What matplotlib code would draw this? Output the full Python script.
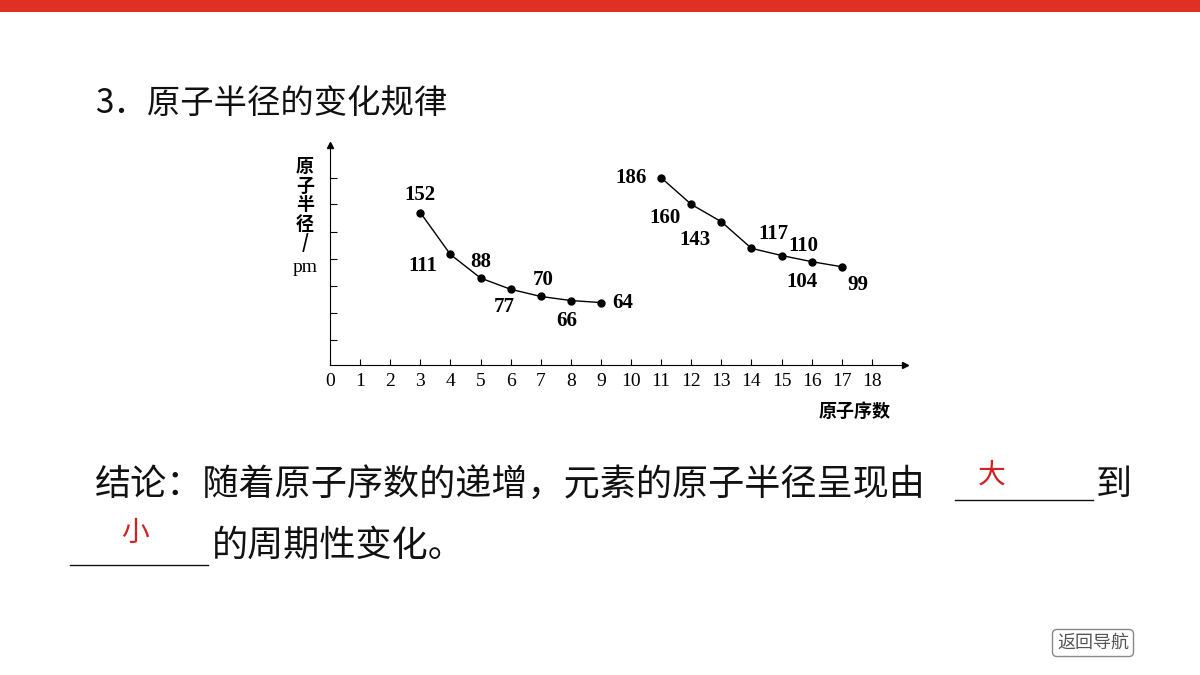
import matplotlib.pyplot as plt
from matplotlib.patches import Rectangle
from matplotlib.lines import Line2D

plt.rcParams['font.family'] = ['Noto Sans CJK SC', 'DejaVu Sans']

# period 2 (Li..F) and period 3 (Na..Cl)
z2 = [3, 4, 5, 6, 7, 8, 9]
r2 = [152, 111, 88, 77, 70, 66, 64]
z3 = [11, 12, 13, 14, 15, 16, 17]
r3 = [186, 160, 143, 117, 110, 104, 99]
xticks = list(range(0, 19))
yticks = [27.5, 54, 80.5, 107, 133, 160, 186]

# label offsets in px (dx, dy)
off2 = [(0, 18), (-28, -12), (0, 16), (-6, -18), (2, 16), (-4, -20), (22, 0)]
off3 = [(-30, 0), (-26, -14), (-26, -18), (22, 14), (22, 10), (-10, -20), (16, -18)]

fig = plt.figure(figsize=(12, 6.75), dpi=100)
fig.patches.append(Rectangle((0, 1 - 12 / 675), 1, 12 / 675, transform=fig.transFigure,
                             facecolor='#e03024', edgecolor='none'))

fig.text(95 / 1200, 1 - 103 / 675, '3．原子半径的变化规律', fontsize=24, va='center', color='#111')

ax = fig.add_axes([330 / 1200, 1 - 365 / 675, 575 / 1200, 220 / 675])
ax.set_xlim(0, 19.1)
ax.set_ylim(3, 218)
for s in ['top', 'right']:
    ax.spines[s].set_visible(False)
ax.plot(1, 0, '>k', transform=ax.transAxes, clip_on=False, markersize=5)
ax.plot(0, 1, '^k', transform=ax.transAxes, clip_on=False, markersize=5)
ax.set_xticks(xticks)
ax.set_xticklabels([str(x) for x in xticks], family='Liberation Serif', fontsize=14)
ax.set_yticks(yticks)
ax.set_yticklabels([])
ax.tick_params(axis='x', direction='in', length=4, pad=6)
ax.tick_params(axis='y', direction='in', length=5)

for zs, rs, offs in [(z2, r2, off2), (z3, r3, off3)]:
    ax.plot(zs, rs, 'k-', lw=1, marker='o', markersize=5)
    for z, r, (dx, dy) in zip(zs, rs, offs):
        ax.annotate(str(r), (z, r), xytext=(dx * 0.72, dy * 0.72), textcoords='offset points',
                    ha='center', va='center', fontsize=15, fontweight='bold',
                    family='Liberation Serif')

fig.text(305 / 1200, 1 - 205 / 675, '原\n子\n半\n径\n/', fontsize=13, fontweight='bold',
         ha='center', va='center', linespacing=1.0)
fig.text(305 / 1200, 1 - 268 / 675, 'pm', fontsize=14, family='Liberation Serif',
         ha='center', va='center')
fig.text(855 / 1200, 1 - 411 / 675, '原子序数', fontsize=13, fontweight='bold',
         ha='center', va='center')

fig.text(95 / 1200, 1 - 485 / 675, '结论：随着原子序数的递增，元素的原子半径呈现由', fontsize=26,
         va='center', color='#111')
fig.text(1096 / 1200, 1 - 485 / 675, '到', fontsize=26, va='center', color='#111')
fig.text(212 / 1200, 1 - 546 / 675, '的周期性变化。', fontsize=26, va='center', color='#111')
for x0, x1, y in [(955, 1093, 500), (70, 208, 565)]:
    fig.add_artist(Line2D([x0 / 1200, x1 / 1200], [1 - y / 675] * 2, color='#111', lw=1))
fig.text(992 / 1200, 1 - 475 / 675, '大', fontsize=20, ha='center', va='center', color='#d42020')
fig.text(135 / 1200, 1 - 533 / 675, '小', fontsize=20, ha='center', va='center', color='#d42020')

fig.text(1093 / 1200, 1 - 643 / 675, '返回导航', fontsize=13, ha='center', va='center', color='#555',
         bbox=dict(boxstyle='round,pad=0.25', facecolor='white', edgecolor='#888'))

fig.savefig('out.png', dpi=100)
